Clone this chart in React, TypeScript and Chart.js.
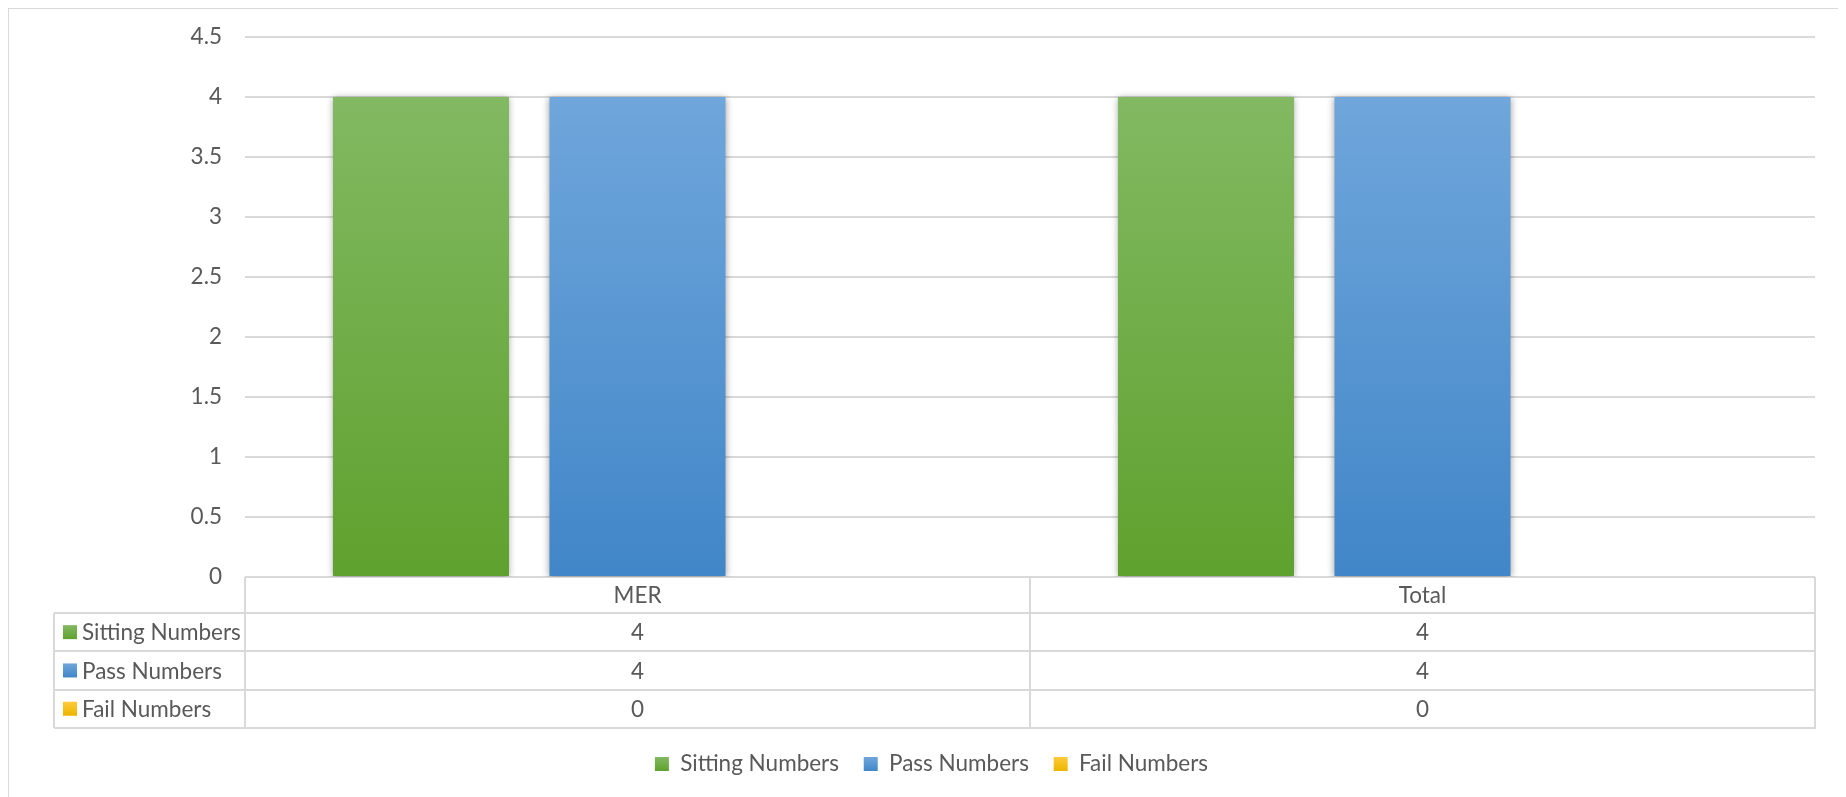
import React, { useEffect, useRef } from 'react';
import { Chart, registerables } from 'chart.js';

Chart.register(...registerables);

// ---- data ----
const categories = ['MER', 'Total'];
const seriesNames = ['Sitting Numbers', 'Pass Numbers', 'Fail Numbers'];
const sittingNumbers = [4, 4];
const passNumbers = [4, 4];
const failNumbers = [0, 0];
const yMin = 0;
const yMax = 4.5;
const yStep = 0.5;

// ---- styles ----
const seriesGradients: [string, string][] = [
  ['#82b962', '#5fa12e'],
  ['#6fa6db', '#4186c8'],
  ['#ffca3a', '#ecb500'],
];
const FONT_FAMILY = 'Lato, "Open Sans", sans-serif';
const FONT_SIZE = 22.5;
const TEXT_COLOR = '#595959';
const LINE_COLOR = '#d9d9d9';

const seriesValues = [sittingNumbers, passNumbers, failNumbers];

function barFill(i: number) {
  return (ctx: any) => {
    const [top, bot] = seriesGradients[i];
    const chart = ctx.chart;
    if (!chart.chartArea || ctx.type !== 'data' || !chart.scales.y) return bot;
    const ys = chart.scales.y;
    const v = ctx.parsed ? ctx.parsed.y : ctx.raw;
    const yTop = ys.getPixelForValue(v);
    const yBot = ys.getPixelForValue(0);
    if (!isFinite(yTop) || !isFinite(yBot) || Math.abs(yTop - yBot) < 1) return bot;
    const g = chart.ctx.createLinearGradient(0, yTop, 0, yBot);
    g.addColorStop(0, top);
    g.addColorStop(1, bot);
    return g;
  };
}

const shadowPlugin = {
  id: 'barShadow',
  beforeDatasetsDraw(chart: any) {
    const c = chart.ctx;
    c.save();
    c.shadowColor = 'rgba(0,0,0,0.38)';
    c.shadowBlur = 7;
    c.shadowOffsetX = 0;
    c.shadowOffsetY = 1;
  },
  afterDatasetsDraw(chart: any) {
    chart.ctx.restore();
  },
};

const HEADER_H = 36;
const ROW_H = 38.3;
const LABEL_COL_W = 191;

const dataTablePlugin = {
  id: 'dataTable',
  afterDraw(chart: any) {
    const ctx = chart.ctx;
    const xs = chart.scales.x;
    const area = chart.chartArea;
    const centers = categories.map((_, i) => xs.getPixelForValue(i));
    const bounds = [area.left];
    for (let i = 0; i < centers.length - 1; i++) bounds.push((centers[i] + centers[i + 1]) / 2);
    bounds.push(area.right);
    const top = area.bottom;
    const rowsTop = top + HEADER_H;
    const tableBottom = rowsTop + seriesNames.length * ROW_H;
    const labelLeft = area.left - LABEL_COL_W;

    ctx.save();
    ctx.strokeStyle = LINE_COLOR;
    ctx.lineWidth = 2;
    ctx.beginPath();
    for (let r = 0; r <= seriesNames.length; r++) {
      const y = Math.round(rowsTop + r * ROW_H);
      ctx.moveTo(labelLeft, y);
      ctx.lineTo(area.right + 1, y);
    }
    ctx.moveTo(Math.round(labelLeft), Math.round(rowsTop));
    ctx.lineTo(Math.round(labelLeft), Math.round(tableBottom));
    bounds.forEach((b) => {
      const x = Math.round(b);
      ctx.moveTo(x, top);
      ctx.lineTo(x, Math.round(tableBottom));
    });
    ctx.stroke();

    ctx.fillStyle = TEXT_COLOR;
    ctx.font = `${FONT_SIZE}px ${FONT_FAMILY}`;
    ctx.textAlign = 'center';
    ctx.textBaseline = 'middle';
    categories.forEach((c, i) => ctx.fillText(c, centers[i], top + HEADER_H / 2 + 1));
    seriesValues.forEach((vals, r) => {
      const cy = rowsTop + r * ROW_H + ROW_H / 2 + 1;
      vals.forEach((v, i) => ctx.fillText(String(v), centers[i], cy));
    });
    seriesNames.forEach((name, r) => {
      const cy = rowsTop + r * ROW_H + ROW_H / 2;
      const sx = labelLeft + 9;
      const [gt, gb] = seriesGradients[r];
      const g = ctx.createLinearGradient(0, cy - 7, 0, cy + 7);
      g.addColorStop(0, gt);
      g.addColorStop(1, gb);
      ctx.fillStyle = g;
      ctx.fillRect(sx, cy - 7, 14, 14);
      ctx.fillStyle = TEXT_COLOR;
      ctx.textAlign = 'left';
      ctx.fillText(name, sx + 19, cy + 1);
    });
    ctx.restore();
  },
};

export default function App() {
  const ref = useRef<HTMLCanvasElement | null>(null);

  useEffect(() => {
    document.documentElement.style.overflow = 'hidden';
    document.body.style.overflow = 'hidden';
    const canvas = ref.current;
    if (!canvas) return;
    const chart = new Chart(canvas, {
      type: 'bar',
      data: {
        labels: categories,
        datasets: seriesNames.map((name, i) => ({
          label: name,
          data: seriesValues[i],
          backgroundColor: barFill(i),
          borderWidth: 0,
          categoryPercentage: 0.8275,
          barPercentage: 0.813,
        })),
      },
      options: {
        animation: false,
        responsive: false,
        devicePixelRatio: 1,
        events: [],
        layout: { padding: { left: 39, right: 30, top: 28, bottom: 11.75 } },
        scales: {
          x: {
            grid: { display: false },
            border: { display: false },
            ticks: { display: false },
            afterFit: (s: any) => {
              s.height = HEADER_H + seriesNames.length * ROW_H + 0.1;
            },
          },
          y: {
            min: yMin,
            max: yMax,
            ticks: {
              stepSize: yStep,
              padding: 23,
              color: TEXT_COLOR,
              font: { family: FONT_FAMILY, size: FONT_SIZE },
              callback: (v: any) => String(Number(Number(v).toFixed(2))),
            },
            grid: { color: LINE_COLOR, lineWidth: 2, drawTicks: false },
            border: { display: false },
            afterFit: (s: any) => {
              s.width = 197;
              s.paddingTop = 0;
              s.paddingBottom = 0;
            },
          },
        },
        plugins: {
          tooltip: { enabled: false },
          title: { display: false },
          legend: {
            display: true,
            position: 'bottom',
            labels: {
              boxWidth: 14,
              boxHeight: 14,
              padding: 24.75,
              color: TEXT_COLOR,
              font: { family: FONT_FAMILY, size: FONT_SIZE },
              generateLabels: (ch: any) =>
                seriesNames.map((name, i) => {
                  const g = ch.ctx.createLinearGradient(0, 748, 0, 762);
                  g.addColorStop(0, seriesGradients[i][0]);
                  g.addColorStop(1, seriesGradients[i][1]);
                  return {
                    text: name,
                    fillStyle: g,
                    strokeStyle: 'rgba(0,0,0,0)',
                    lineWidth: 0,
                    hidden: false,
                    datasetIndex: i,
                    fontColor: TEXT_COLOR,
                  };
                }),
            },
          },
        },
      },
      plugins: [shadowPlugin, dataTablePlugin],
    } as any);
    return () => chart.destroy();
  }, []);

  return (
    <div
      style={{
        position: 'relative',
        width: 1838,
        height: 789,
        boxSizing: 'border-box',
        borderTop: '1px solid #d9d9d9',
        borderLeft: '1px solid #d9d9d9',
        borderRight: '1px solid #d9d9d9',
        background: '#fff',
      }}
    >
      <canvas ref={ref} width={1836} height={788} style={{ display: 'block', width: 1836, height: 788 }} />
    </div>
  );
}
